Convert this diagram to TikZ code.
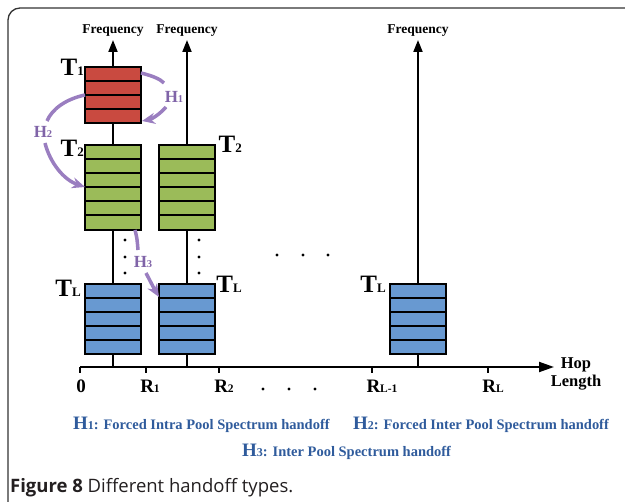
\documentclass[tikz,border=0pt]{standalone}
\usepackage{fontspec}
\setmainfont{Liberation Serif}
\newfontfamily\capfont{Open Sans}
\usetikzlibrary{arrows.meta,calc}

\definecolor{poolred}{HTML}{C94A40}
\definecolor{poolgreen}{HTML}{9BBB59}
\definecolor{poolblue}{HTML}{6899D1}
\definecolor{hoarrow}{HTML}{9A7EC0}
\definecolor{hotext}{HTML}{8064A8}
\definecolor{legblue}{HTML}{2F5B9C}
\definecolor{captext}{HTML}{231F20}

\newcommand{\fsz}[1]{\fontsize{#1}{#1}\selectfont}
\newcommand{\Tlab}[1]{{\fsz{25}T}{\fsz{13}#1}}
\newcommand{\Rlab}[1]{{\fsz{19}R}{\fsz{11.5}#1}}
\newcommand{\Hlab}[1]{{\fsz{17}H}{\fsz{10.5}#1}}

% a channel pool: name, left x, top y, stripes, stripes-1, colour
\newcommand{\poolbox}[6]{%
  \node[pool, fill=#6, minimum height=#4*14.1pt, anchor=north west] (#1) at (#2,#3) {};
  \foreach \k in {1,...,#5}{
    \draw[stripe] ($(#1.north west)!\k/#4!(#1.south west)$) -- ($(#1.north east)!\k/#4!(#1.south east)$);
  }%
}

\begin{document}
\begin{tikzpicture}[x=1pt,y=-1pt,
  pool/.style={draw, line width=2pt, minimum width=56pt, inner sep=0pt, outer sep=0pt},
  stripe/.style={line width=2pt},
  freqaxis/.style={line width=2pt, -{Triangle[length=12pt,width=9pt]}},
  hopaxis/.style={line width=2pt, -{Triangle[length=15pt,width=10pt]}},
  freqlab/.style={font=\bfseries\fsz{13.5}, inner sep=0pt},
  tlab/.style={font=\bfseries, inner sep=0pt, anchor=base east},
  rlab/.style={font=\bfseries, inner sep=0pt, anchor=base},
  hand/.style={hoarrow, line width=3.5pt},
  handarrow/.style={hoarrow, line width=3.5pt, -{Stealth[length=13pt,width=11pt]}},
  hlab/.style={text=hotext, font=\bfseries, inner sep=0pt},
  dot/.style={circle, fill=black, inner sep=0pt, minimum size=3.2pt},
  legend/.style={text=legblue, font=\bfseries\fsz{14.5}, inner sep=0pt, anchor=base west}
]
\useasboundingbox (0,0) rectangle (625,502);

% outer frame (open on the right and bottom)
\draw[line width=1.3pt, black!80, rounded corners=12pt] (8,502) -- (8,8) -- (625,8);

% hop-length axis with ticks
\coordinate (hop0) at (80,367);
\coordinate (hopend) at (554,367);
\draw[hopaxis] (hop0) -- (hopend);
\foreach \x in {80,146,219,372,488}{
  \draw[line width=1.5pt] (\x,367) -- (\x,373);
}
\node[rlab, font=\bfseries\fsz{19}] (r0) at (81,393) {0};
\node[rlab] (r1) at (150,393) {\Rlab{1}};
\node[rlab] (r2) at (224,393) {\Rlab{2}};
\node[rlab] (rl1) at (382,393) {\Rlab{L-1}};
\node[rlab] (rl) at (493,393) {\Rlab{L}};
\node[font=\bfseries\fsz{16.5}, align=center, inner sep=0pt] (hoplab) at (576,374) {Hop\\[2pt]Length};
\foreach \x [count=\i] in {263,289,315}{
  \node[dot] (hd\i) at (\x,389) {};
}

% frequency axes
\coordinate (f1base) at (113,367); \coordinate (f1tip) at (113,40);
\coordinate (f2base) at (187,367); \coordinate (f2tip) at (187,40);
\coordinate (f3base) at (418,367); \coordinate (f3tip) at (418,40);
\draw[freqaxis] (f1base) -- (f1tip);
\draw[freqaxis] (f2base) -- (f2tip);
\draw[freqaxis] (f3base) -- (f3tip);
\node[freqlab] (fl1) at (113,31) {Frequency};
\node[freqlab] (fl2) at (187,31) {Frequency};
\node[freqlab] (fl3) at (418,31) {Frequency};

% channel pools
\poolbox{t1}{85}{67}{4}{3}{poolred}
\poolbox{t2a}{85}{145}{6}{5}{poolgreen}
\poolbox{tla}{85}{284}{5}{4}{poolblue}
\poolbox{t2b}{159}{145}{6}{5}{poolgreen}
\poolbox{tlb}{159}{284}{5}{4}{poolblue}
\poolbox{tlc}{390}{284}{5}{4}{poolblue}

% pool labels
\node[tlab] (lt1) at (84,76) {\Tlab{1}};
\node[tlab] (lt2a) at (84,157) {\Tlab{2}};
\node[tlab] (ltla) at (81,297) {\Tlab{L}};
\node[tlab] (lt2b) at (242,153) {\Tlab{2}};
\node[tlab] (ltlb) at (242,293) {\Tlab{L}};
\node[tlab] (ltlc) at (386,293) {\Tlab{L}};

% vertical and horizontal ellipses
\foreach \y [count=\i] in {240,257,273}{
  \node[dot] (va\i) at (125,\y) {};
  \node[dot] (vb\i) at (199,\y) {};
}
\foreach \x [count=\i] in {277,303,328}{
  \node[dot] (md\i) at (\x,255) {};
}

% handoff H1: within the first pool
\coordinate (h1a) at (141,73);
\coordinate (h1b) at (164,83);
\coordinate (h1c) at (166,107);
\coordinate (h1d) at (142,121);
\draw[hand] (h1a) .. controls (153,76) and (160,79) .. (h1b);
\draw[handarrow] (h1c) .. controls (160,114) and (152,119) .. (h1d);
\node[hlab] (h1l) at (174,97) {\Hlab{1}};

% handoff H2: from the first pool to the second
\coordinate (h2a) at (85,95);
\coordinate (h2b) at (47,121);
\coordinate (h2c) at (45,143);
\coordinate (h2d) at (85,187);
\draw[hand] (h2a) .. controls (66,99) and (52,109) .. (h2b);
\draw[handarrow] (h2c) .. controls (50,163) and (64,180) .. (h2d);
\node[hlab] (h2l) at (43,132) {\Hlab{2}};

% handoff H3: to the pool of the next relay
\coordinate (h3a) at (135,230);
\coordinate (h3b) at (138,250);
\coordinate (h3c) at (146,273);
\coordinate (h3d) at (159,297);
\draw[hand] (h3a) .. controls (137,238) .. (h3b);
\draw[handarrow] (h3c) .. controls (150,282) .. (h3d);
\node[hlab] (h3l) at (143,262) {\Hlab{3}};

% legend
\node[legend] (leg1) at (73,430) {{\fsz{19}H}{\fsz{12}1}: Forced Intra Pool Spectrum handoff};
\node[legend] (leg2) at (353,430) {{\fsz{19}H}{\fsz{12}2}: Forced Inter Pool Spectrum handoff};
\node[legend] (leg3) at (242,457) {{\fsz{19}H}{\fsz{12}3}: Inter Pool Spectrum handoff};

% caption
\node[anchor=base west, inner sep=0pt, text=captext, font=\capfont\fsz{18.5}] (cap) at (10,493)
  {\textbf{Figure 8} Different handoff types.};
\end{tikzpicture}
\end{document}
